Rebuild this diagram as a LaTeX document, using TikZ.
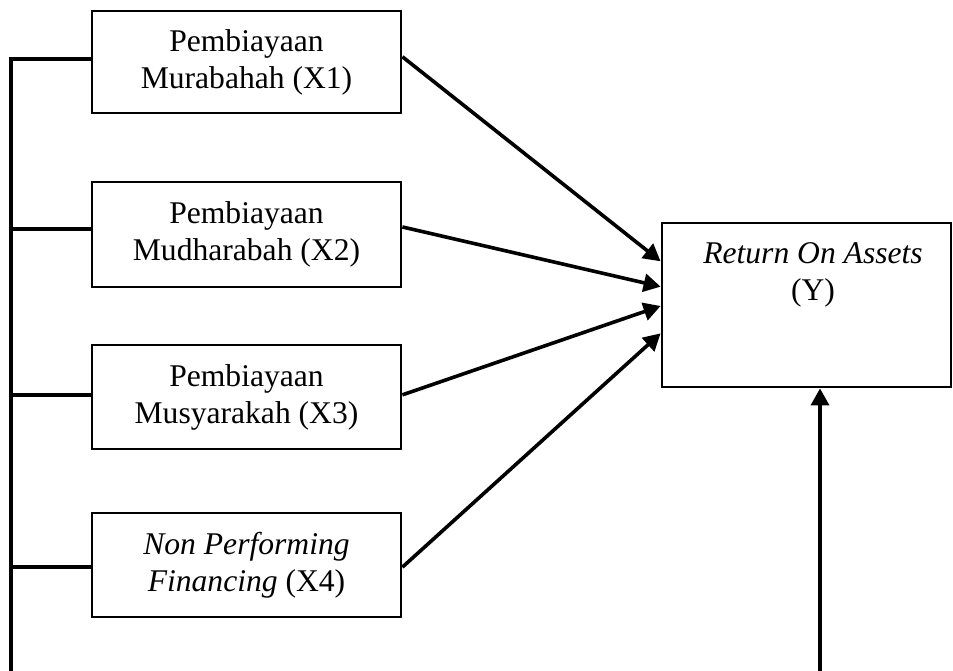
\documentclass[tikz,border=0pt]{standalone}
\usepackage{fontspec}
\setmainfont{Liberation Serif}
\usetikzlibrary{arrows.meta,calc}
\tikzset{
  varbox/.style={draw, line width=1.4pt, rectangle, inner sep=0pt},
  boxtext/.style={align=center, font=\fontsize{15.8}{18.5}\selectfont, inner sep=0pt},
  link/.style={line width=1.8pt, line join=miter},
  arrowlink/.style={link, -{Triangle[length=8.5pt,width=9pt]}},
}
\begin{document}
\begin{tikzpicture}[x=0.5pt, y=-0.5pt]
  \useasboundingbox (0,0) rectangle (953,670);

  % independent variables
  \node[varbox, minimum width=154.5pt, minimum height=51pt] (x1) at (246.5,62) {};
  \node[boxtext] (t1) at (x1.center) {Pembiayaan\\Murabahah (X1)};
  \node[varbox, minimum width=154.5pt, minimum height=52.5pt] (x2) at (246.5,234.5) {};
  \node[boxtext] (t2) at (x2.center) {Pembiayaan\\Mudharabah (X2)};
  \node[varbox, minimum width=154.5pt, minimum height=52pt] (x3) at (246.5,397) {};
  \node[boxtext] (t3) at (x3.center) {Pembiayaan\\Musyarakah (X3)};
  \node[varbox, minimum width=154.5pt, minimum height=52pt] (x4) at (246.5,565) {};
  \node[boxtext] (t4) at (x4.center) {\textit{Non Performing}\\\textit{Financing} (X4)};

  % dependent variable
  \node[varbox, minimum width=144.5pt, minimum height=82pt] (y) at (806.5,305) {};
  \node[boxtext] (ty) at (813,275) {\textit{Return On Assets}\\(Y)};

  % left bus joining all independent variables
  \coordinate (busend) at (11,675);
  \draw[link] (busend) |- ($(x1.north west)!0.47!(x1.south west)$);
  \draw[link] ($(x2.north west)!0.45!(x2.south west)$) -- ++(-81,0);
  \draw[link] ($(x3.north west)!0.48!(x3.south west)$) -- ++(-81,0);
  \draw[link] ($(x4.north west)!0.52!(x4.south west)$) -- ++(-81,0);

  % partial effects
  \draw[arrowlink] ($(x1.north east)!0.45!(x1.south east)$) -- ($(y.north west)!0.238!(y.south west)$);
  \draw[arrowlink] ($(x2.north east)!0.43!(x2.south east)$) -- ($(y.north west)!0.39!(y.south west)$);
  \draw[arrowlink] ($(x3.north east)!0.48!(x3.south east)$) -- ($(y.north west)!0.506!(y.south west)$);
  \draw[arrowlink] ($(x4.north east)!0.52!(x4.south east)$) -- ($(y.north west)!0.67!(y.south west)$);

  % simultaneous effect
  \coordinate (simend) at (820,675);
  \draw[arrowlink] (simend) -- (simend |- y.south);
\end{tikzpicture}
\end{document}
